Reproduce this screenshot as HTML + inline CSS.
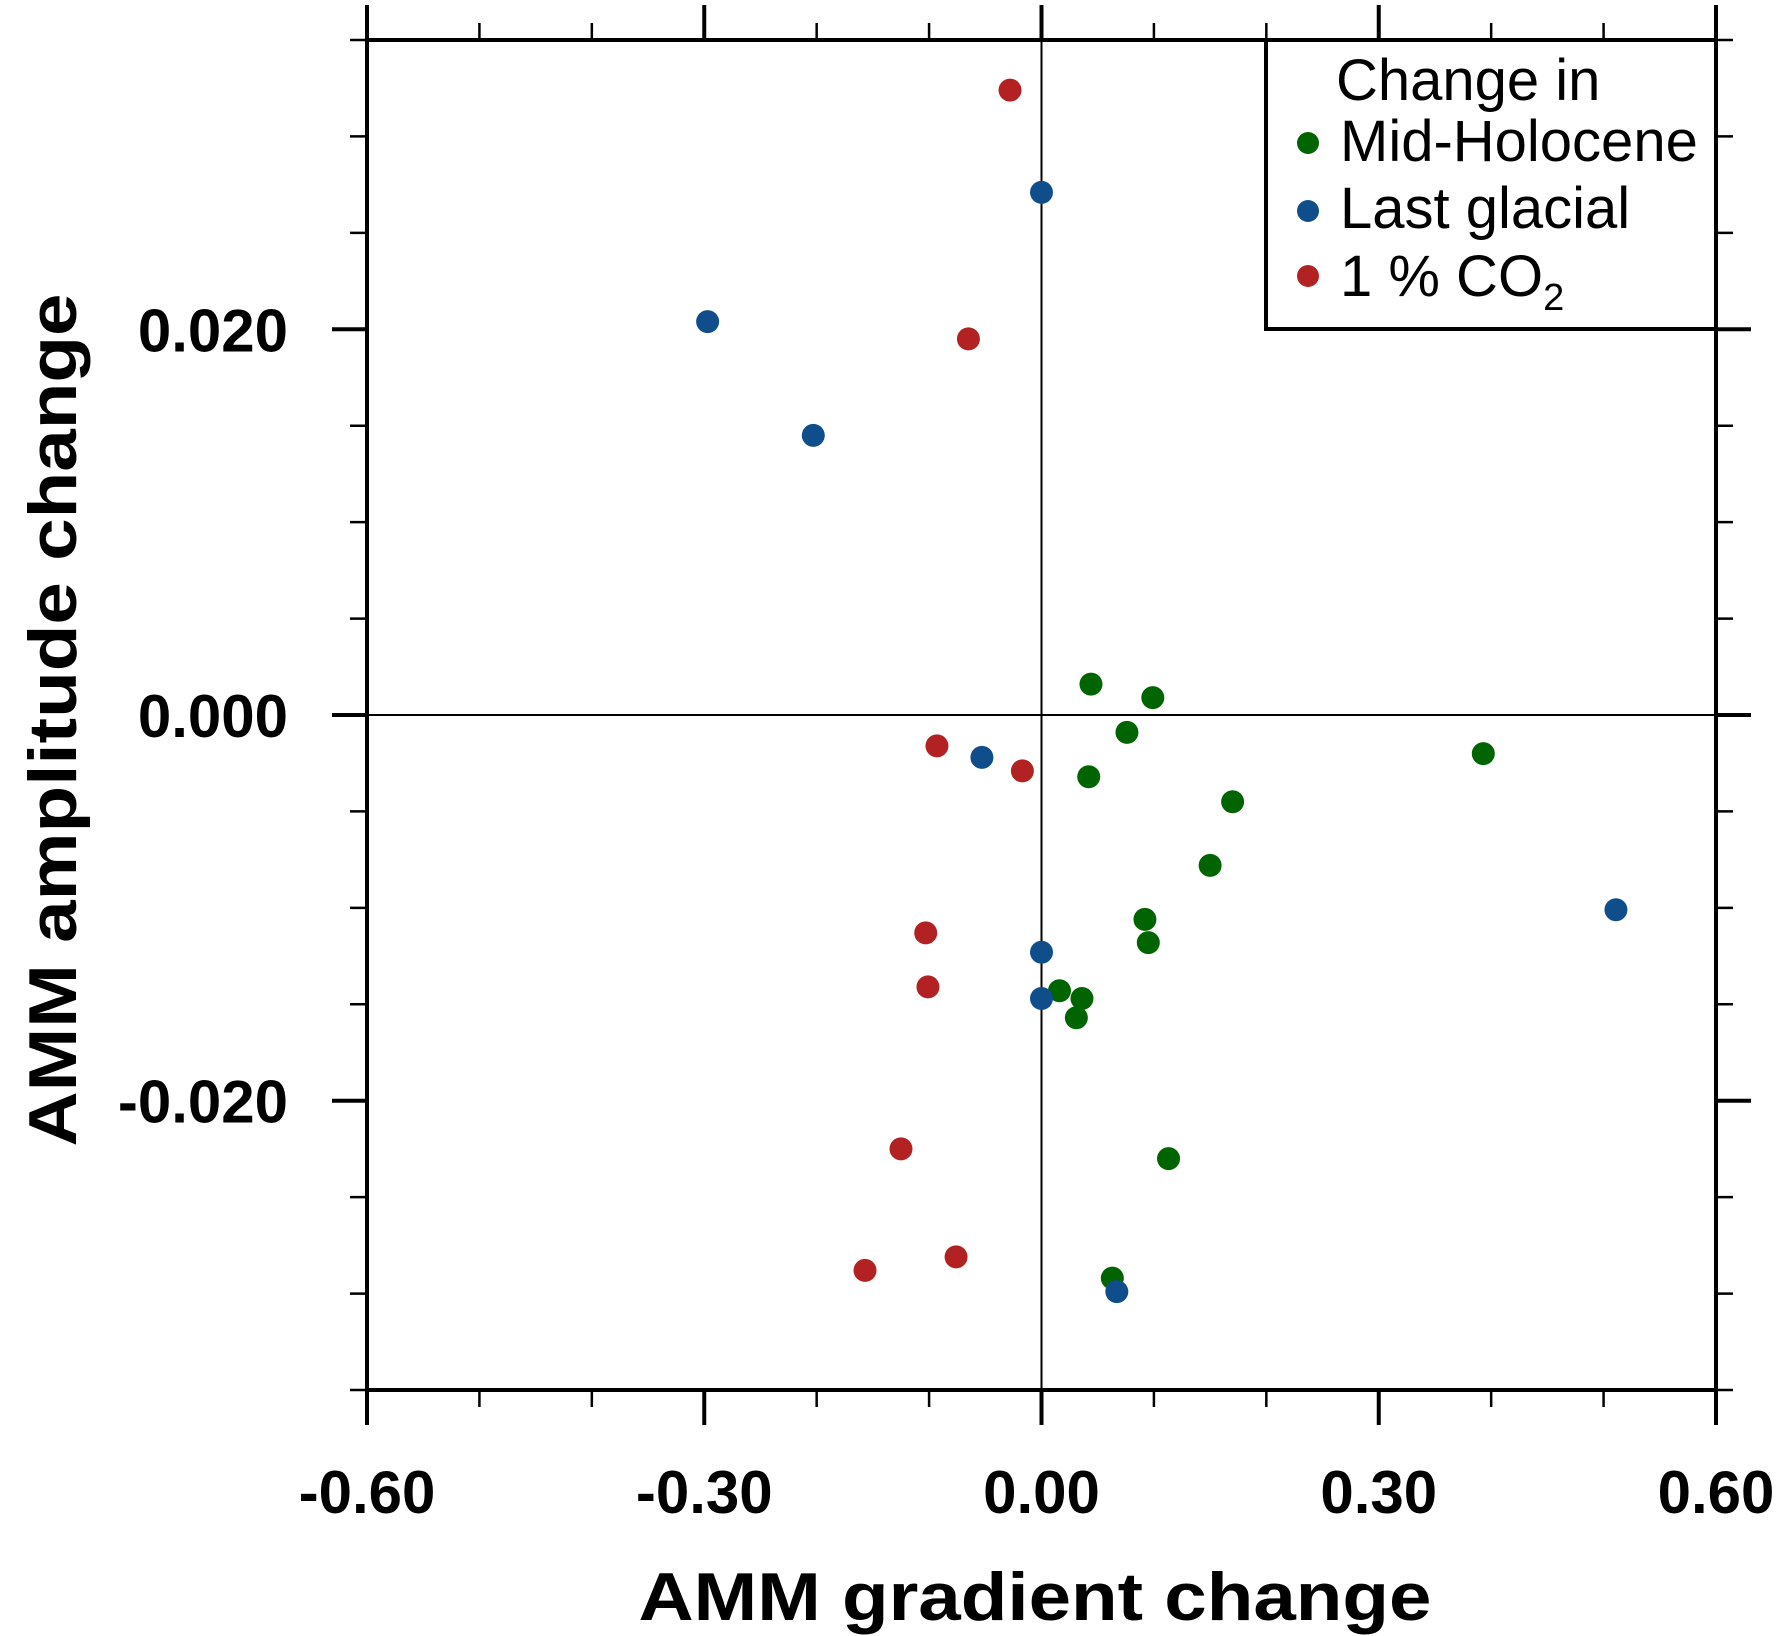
<!DOCTYPE html>
<html><head><meta charset="utf-8"><style>
html,body{margin:0;padding:0;background:#fff;}
svg{display:block;}
</style></head><body>
<svg id="chart" width="1783" height="1636" viewBox="0 0 1783 1636" xmlns="http://www.w3.org/2000/svg" font-family="'Liberation Sans', Arial, sans-serif">
<g id="axes"></g>
<g id="marks"></g>
<g id="legend">
  <rect x="1266" y="40" width="450" height="289" fill="#fff" stroke="#000" stroke-width="4"/>
  <text x="1336" y="100" font-size="58">Change in</text>
  <circle cx="1308" cy="143" r="11" fill="#006400"/>
  <text x="1340" y="161" font-size="58">Mid-Holocene</text>
  <circle cx="1308" cy="211" r="11" fill="#104e8b"/>
  <text x="1340" y="228" font-size="58">Last glacial</text>
  <circle cx="1308" cy="276" r="11" fill="#b22222"/>
  <text x="1340" y="296" font-size="58">1 % CO<tspan font-size="38" dy="14">2</tspan></text>
</g>
<text x="1035" y="1620" font-size="68" font-weight="bold" text-anchor="middle" textLength="793" lengthAdjust="spacingAndGlyphs">AMM gradient change</text>
<text transform="translate(76,720) rotate(-90)" font-size="68" font-weight="bold" text-anchor="middle" textLength="853" lengthAdjust="spacingAndGlyphs">AMM amplitude change</text>
</svg>
<script>
const xTickValues = [-0.6, -0.3, 0.0, 0.3, 0.6];
const xTickLabels = ["-0.60", "-0.30", "0.00", "0.30", "0.60"];
const yTickValues = [0.02, 0.0, -0.02];
const yTickLabels = ["0.020", "0.000", "-0.020"];
const midHoloceneX = [0.044,0.099,0.076,0.393,0.042,0.170,0.150,0.092,0.095,0.016,0.036,0.031,0.113,0.063];
const midHoloceneY = [0.0016,0.0009,-0.0009,-0.0020,-0.0032,-0.0045,-0.0078,-0.0106,-0.0118,-0.0143,-0.0147,-0.0157,-0.0230,-0.0292];
const lastGlacialX = [0.000,-0.297,-0.203,-0.053,0.000,0.000,0.511,0.067];
const lastGlacialY = [0.0271,0.0204,0.0145,-0.0022,-0.0123,-0.0147,-0.0101,-0.0299];
const co2X = [-0.028,-0.065,-0.093,-0.017,-0.103,-0.101,-0.125,-0.157,-0.076];
const co2Y = [0.0324,0.0195,-0.0016,-0.0029,-0.0113,-0.0141,-0.0225,-0.0288,-0.0281];

const NS = "http://www.w3.org/2000/svg";
const L = 367, R = 1716, T = 40, B = 1390;
const xMin = -0.6, xMax = 0.6, yMin = -0.035, yMax = 0.035;
function sx(v){ return L + (v - xMin) / (xMax - xMin) * (R - L); }
function sy(v){ return B - (v - yMin) / (yMax - yMin) * (B - T); }
function mk(tag, attrs, parent){
  const e = document.createElementNS(NS, tag);
  for (const k in attrs) e.setAttribute(k, attrs[k]);
  parent.appendChild(e);
  return e;
}
const axes = document.getElementById('axes');
const marks = document.getElementById('marks');

// zero lines
let zl = mk('line', {x1: sx(0), x2: sx(0), y1: T, y2: B, stroke: '#000', 'stroke-width': 2}, axes);


zl = mk('line', {x1: L, x2: R, y1: sy(0), y2: sy(0), stroke: '#000', 'stroke-width': 2}, axes);



// frame
const fr = mk('rect', {x: L, y: T, width: R - L, height: B - T, fill: 'none', stroke: '#000', 'stroke-width': 4}, axes);



// x ticks (top and bottom), every 0.1
for (let i = 0; i <= 12; i++) {
  const v = xMin + i * 0.1;
  const major = i % 3 === 0;
  const len = major ? 35 : 17;
  const w = major ? 4 : 2.5;
  let t = mk('line', {x1: sx(v), x2: sx(v), y1: B, y2: B + len, stroke: '#000', 'stroke-width': w}, axes);
  
  
  t = mk('line', {x1: sx(v), x2: sx(v), y1: T, y2: T - len, stroke: '#000', 'stroke-width': w}, axes);
  
  
}
// y ticks, every 0.005
for (let i = 0; i <= 14; i++) {
  const v = yMin + i * 0.005;
  const major = Math.abs(Math.round(v * 1000) % 20) === 0 && Math.abs(v) < 0.03;
  const len = major ? 35 : 17;
  const w = major ? 4 : 2.5;
  let t = mk('line', {x1: L, x2: L - len, y1: sy(v), y2: sy(v), stroke: '#000', 'stroke-width': w}, axes);
  
  
  t = mk('line', {x1: R, x2: R + len, y1: sy(v), y2: sy(v), stroke: '#000', 'stroke-width': w}, axes);
  
  
}
// tick labels
xTickValues.forEach((v, i) => {
  const t = mk('text', {x: sx(v), y: 1513, 'font-size': 60, 'font-weight': 'bold', 'text-anchor': 'middle'}, axes);
  t.textContent = xTickLabels[i];
  
  
});
yTickValues.forEach((v, i) => {
  const t = mk('text', {x: 288, y: sy(v) + 22, 'font-size': 60, 'font-weight': 'bold', 'text-anchor': 'end'}, axes);
  t.textContent = yTickLabels[i];
  
  
});
// points
function series(xs, ys, color, name){
  xs.forEach((x, i) => {
    const c = mk('circle', {cx: sx(x), cy: sy(ys[i]), r: 11.5, fill: color}, marks);
    
    
  });
}
series(midHoloceneX, midHoloceneY, '#006400', 'mid-holocene');
series(lastGlacialX, lastGlacialY, '#104e8b', 'last-glacial');
series(co2X, co2Y, '#b22222', 'co2');
</script>
</body></html>
